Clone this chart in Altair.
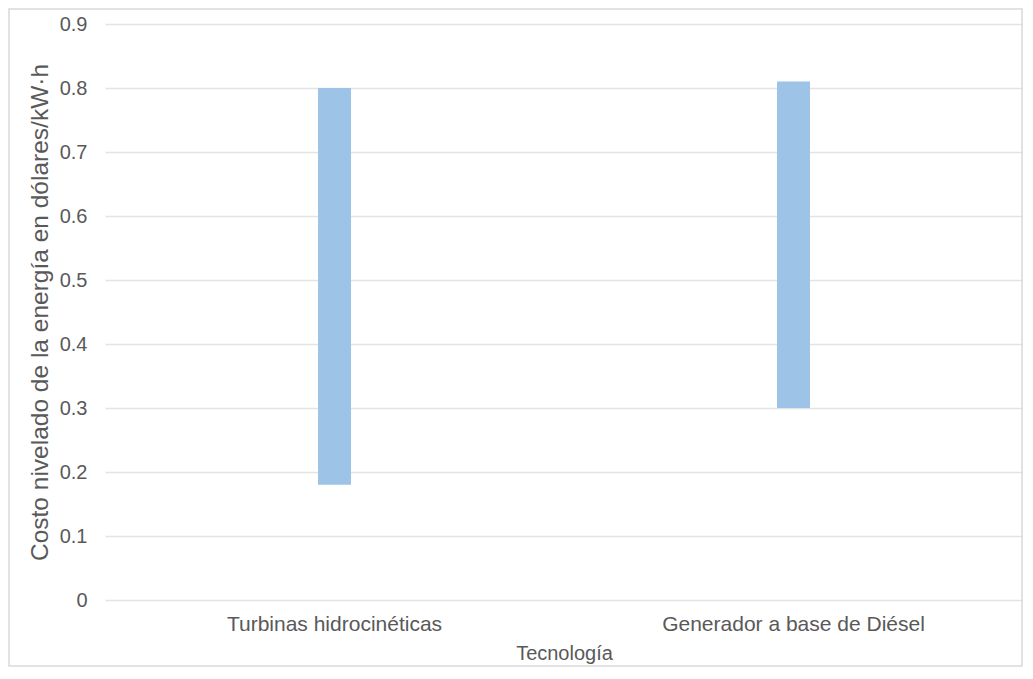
import altair as alt
import pandas as pd

categorias = ["Turbinas hidrocinéticas", "Generador a base de Diésel"]
costo_min = [0.18, 0.30]
costo_max = [0.80, 0.81]

df = pd.DataFrame({"Tecnología": categorias, "min": costo_min, "max": costo_max})

W, H = 918, 576
FONT = "Liberation Sans"
TXT = "#595959"

bars = alt.Chart(df).mark_bar(size=33, color="#9DC3E6").encode(
    x=alt.X(
        "Tecnología:N",
        sort=categorias,
        scale=alt.Scale(paddingInner=0, paddingOuter=0),
        axis=alt.Axis(
            title="Tecnología",
            labelAngle=0,
            labelFontSize=21,
            labelColor=TXT,
            labelFont=FONT,
            labelPadding=13,
            labelLimit=0,
            titleFontSize=20,
            titleFont=FONT,
            titleColor=TXT,
            titleFontWeight="normal",
            titlePadding=9,
            domain=False,
            ticks=False,
            grid=False,
        ),
    ),
    y=alt.Y(
        "min:Q",
        scale=alt.Scale(domain=[0, 0.9], nice=False),
        axis=alt.Axis(
            title="Costo nivelado de la energía en dólares/kW·h",
            values=[0, 0.1, 0.2, 0.3, 0.4, 0.5, 0.6, 0.7, 0.8, 0.9],
            labelExpr="datum.value == 0 ? '0' : format(datum.value, '.1f')",
            labelFontSize=20,
            labelColor=TXT,
            labelFont=FONT,
            labelPadding=18,
            titleFontSize=24.5,
            titleFont=FONT,
            titleColor=TXT,
            titleFontWeight="normal",
            titlePadding=7,
            domain=False,
            ticks=False,
            grid=True,
            gridColor="#e3e3e3",
            gridWidth=1.3,
        ),
    ),
    y2="max:Q",
)

border = alt.Chart(pd.DataFrame({"a": [0]})).mark_rect(
    fill=None, stroke="#d9d9d9", strokeWidth=1.5, clip=False
).encode(
    x=alt.value(-96),
    x2=alt.value(W - 1),
    y=alt.value(-15),
    y2=alt.value(H + 66),
)

chart = alt.layer(border, bars).properties(
    width=W,
    height=H,
    background="white",
    padding={"left": 97, "top": 16, "right": 0, "bottom": 68},
    autosize=alt.AutoSizeParams(type="none"),
).configure_view(stroke=None, strokeWidth=0)

chart.save("out.html", embed_options={"renderer": "svg", "actions": False})
